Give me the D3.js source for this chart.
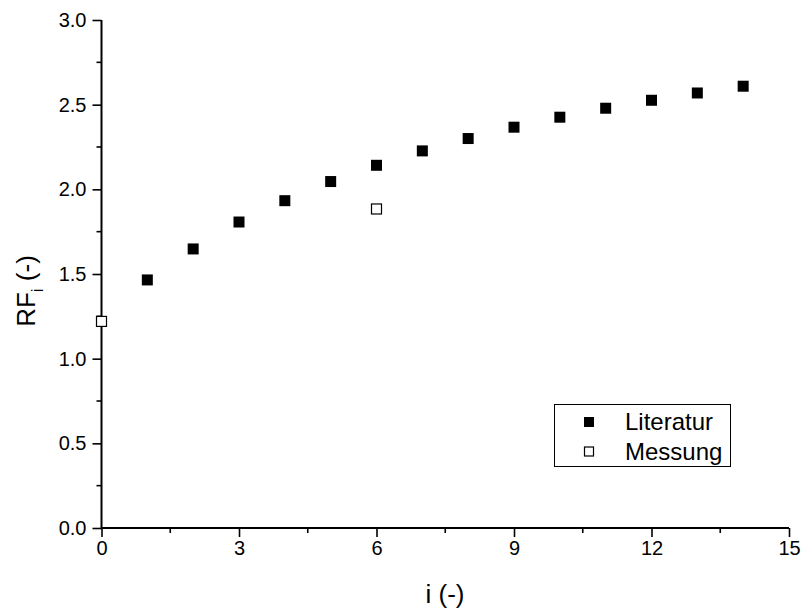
<!DOCTYPE html>
<html><head><meta charset="utf-8">
<script src="https://cdn.jsdelivr.net/npm/d3@7"></script>
<style>body{margin:0;background:#fff;} text{font-family:"Liberation Sans",Arial,sans-serif;fill:#000;}</style>
</head><body>
<svg id="chart" width="804" height="611"></svg>
<script>
const literaturI = [1,2,3,4,5,6,7,8,9,10,11,12,13,14];
const literaturRF = [1.465,1.648,1.807,1.933,2.046,2.142,2.227,2.300,2.367,2.426,2.479,2.526,2.569,2.609];
const messungI = [0,6];
const messungRF = [1.22,1.884];
const xTicks = [0,3,6,9,12,15];
const yTicks = [0.0,0.5,1.0,1.5,2.0,2.5,3.0];
const legendLabels = ["Literatur","Messung"];

const svg = d3.select("#chart");
const x = d3.scaleLinear().domain([0,15]).range([101.5,789]);
const y = d3.scaleLinear().domain([0,3]).range([528,20]);

const g = svg.append("g");
// minor ticks
const xMinor = d3.range(0,15.01,1.5).filter(v=>!xTicks.includes(v));
const yMinor = d3.range(0.25,3,0.5);
g.selectAll(".xm").data(xMinor).enter().append("line")
  .attr("x1",d=>x(d)).attr("x2",d=>x(d)).attr("y1",528).attr("y2",533)
  .attr("stroke","#000").attr("stroke-width",1.6);
g.selectAll(".ym").data(yMinor).enter().append("line")
  .attr("x1",96.5).attr("x2",101.5).attr("y1",d=>y(d)).attr("y2",d=>y(d))
  .attr("stroke","#000").attr("stroke-width",1.6);

const xAxis = d3.axisBottom(x).tickValues(xTicks).tickFormat(d3.format("d")).tickSize(9).tickPadding(4);
const yAxis = d3.axisLeft(y).tickValues(yTicks).tickFormat(d3.format(".1f")).tickSize(9).tickPadding(6);
const gx = svg.append("g").attr("transform","translate(0,528)").call(xAxis);
const gy = svg.append("g").attr("transform","translate(101.5,0)").call(yAxis);
[gx,gy].forEach(a=>{
  a.select(".domain").attr("stroke","#000").attr("stroke-width",2);
  a.selectAll(".tick line").attr("stroke","#000").attr("stroke-width",1.6);
  a.selectAll(".tick text").style("font-size","20px").style("font-family","Liberation Sans, Arial, sans-serif").attr("fill","#000");
});
gx.select(".domain").attr("d","M101.5,0H789");
gy.select(".domain").attr("d","M0,528V20");

// axis titles
svg.append("text").attr("x",445).attr("y",603).attr("text-anchor","middle")
  .style("font-size","26px").text("i (-)");
const yt = svg.append("text").attr("transform","translate(35,291) rotate(-90)").attr("text-anchor","middle")
  .style("font-size","26px");
yt.append("tspan").text("RF");
yt.append("tspan").attr("dy",8).style("font-size","17px").text("i");
yt.append("tspan").attr("dy",-8).text(" (-)");

// points
const ms = 11;
svg.selectAll(".lit").data(literaturI.map((d,i)=>[d,literaturRF[i]])).enter().append("rect")
  .attr("x",d=>x(d[0])-ms/2).attr("y",d=>y(d[1])-ms/2).attr("width",ms).attr("height",ms)
  .attr("fill","#000");
svg.selectAll(".mes").data(messungI.map((d,i)=>[d,messungRF[i]])).enter().append("rect")
  .attr("x",d=>x(d[0])-ms/2+0.5).attr("y",d=>y(d[1])-ms/2+0.5).attr("width",ms-1).attr("height",ms-1)
  .attr("fill","#fff").attr("stroke","#000").attr("stroke-width",1.2);

// legend
const lg = svg.append("g");
lg.append("rect").attr("x",554.5).attr("y",404.5).attr("width",176).attr("height",62)
  .attr("fill","#fff").attr("stroke","#000").attr("stroke-width",1);
const ls = 10;
legendLabels.forEach((lab,i)=>{
  const cy = 422 + i*29.5;
  lg.append("rect").attr("x",589-ls/2+(i?0.5:0)).attr("y",cy-ls/2+(i?0.5:0))
    .attr("width",i?ls-1:ls).attr("height",i?ls-1:ls)
    .attr("fill",i?"#fff":"#000").attr("stroke",i?"#000":"none").attr("stroke-width",1.2);
  lg.append("text").attr("x",625).attr("y",cy+8).style("font-size","24px").text(lab);
});
</script>
</body></html>
